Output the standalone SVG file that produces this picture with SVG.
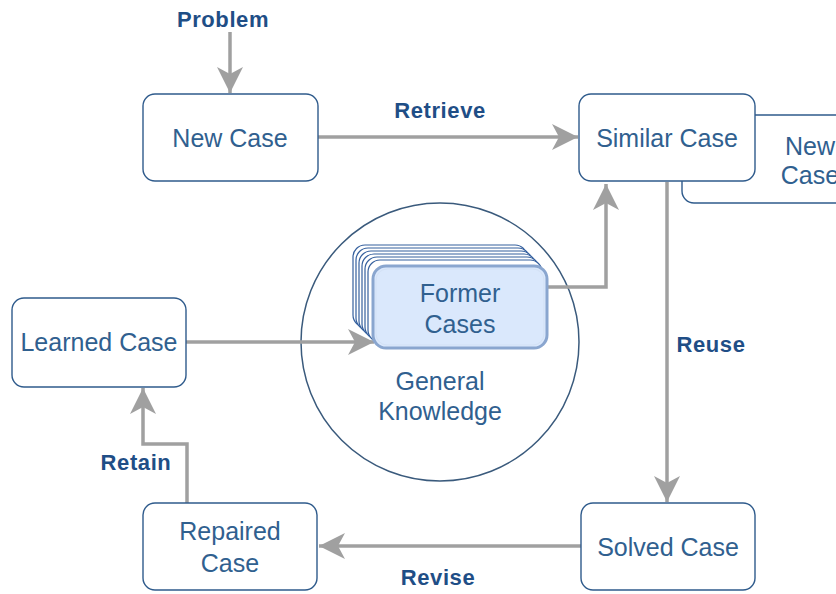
<svg xmlns="http://www.w3.org/2000/svg" width="836" height="594" viewBox="0 0 836 594">
<style>
.node{fill:#ffffff;stroke:#2f5b8c;stroke-width:1.4}
.ntext{font-family:"Liberation Sans",Arial,sans-serif;font-size:25px;fill:#30608f;text-anchor:middle}
.label{font-family:"Liberation Sans",Arial,sans-serif;font-size:22px;font-weight:bold;fill:#1f4e86;text-anchor:middle;letter-spacing:0.6px}
.conn{fill:none;stroke:#a0a0a0;stroke-width:3.5;marker-end:url(#arr)}
.stack{fill:#ffffff;stroke:#35609e;stroke-width:1.2}
</style>
<defs>
<marker id="arr" viewBox="0 0 26 26" refX="26" refY="13" markerWidth="26" markerHeight="26" markerUnits="userSpaceOnUse" orient="auto">
<path d="M0,0 L26,13 L0,26 L7,13 Z" fill="#a0a0a0"/>
</marker>
</defs>
<rect width="836" height="594" fill="#ffffff"/>

<g id="knowledge">
<circle cx="440" cy="342" r="139" fill="#ffffff" stroke="#3a5a7c" stroke-width="1.5"/>
<text class="ntext" x="440" y="390">General</text>
<text class="ntext" x="440" y="420">Knowledge</text>
</g>

<g id="connectors">
<path class="conn" d="M230,32 L230,93"/>
<path class="conn" d="M318,137 L578,137"/>
<path class="conn" d="M667,182 L667,502"/>
<path class="conn" d="M581,546 L319,546"/>
<path class="conn" d="M187,503 L187,444 L143,444 L143,388"/>
<path class="conn" d="M186,342 L374,342"/>
<path class="conn" d="M547,287 L606,287 L606,184"/>
</g>

<g id="labels">
<text class="label" x="223" y="27">Problem</text>
<text class="label" x="440" y="118">Retrieve</text>
<text class="label" x="711" y="352">Reuse</text>
<text class="label" x="438" y="585">Revise</text>
<text class="label" x="136" y="470">Retain</text>
</g>

<g id="new-case-2">
<rect class="node" x="682" y="115" width="200" height="88" rx="12"/>
<text class="ntext" x="810" y="155">New</text>
<text class="ntext" x="810" y="184">Case</text>
</g>

<g id="new-case">
<rect class="node" x="143" y="94" width="175" height="87" rx="12"/>
<text class="ntext" x="230" y="147">New Case</text>
</g>

<g id="similar-case">
<rect class="node" x="579" y="94" width="176" height="87" rx="12"/>
<text class="ntext" x="667" y="147">Similar Case</text>
</g>

<g id="learned-case">
<rect class="node" x="12" y="298" width="174" height="89" rx="12"/>
<text class="ntext" x="99" y="351">Learned Case</text>
</g>

<g id="repaired-case">
<rect class="node" x="143" y="503" width="174" height="87" rx="12"/>
<text class="ntext" x="230" y="540">Repaired</text>
<text class="ntext" x="230" y="572">Case</text>
</g>

<g id="solved-case">
<rect class="node" x="581" y="503" width="174" height="87" rx="12"/>
<text class="ntext" x="668" y="556">Solved Case</text>
</g>

<g id="former-cases">
<rect class="stack" x="353" y="245" width="174" height="82" rx="12"/>
<rect class="stack" x="356" y="248" width="174" height="82" rx="12"/>
<rect class="stack" x="359" y="251" width="174" height="82" rx="12"/>
<rect class="stack" x="362" y="254" width="174" height="82" rx="12"/>
<rect class="stack" x="365" y="257" width="174" height="82" rx="12"/>
<rect class="stack" x="368" y="260" width="174" height="82" rx="12"/>
<rect x="373" y="266" width="174" height="82" rx="13" fill="#dae8fc" stroke="#8aa6cf" stroke-width="3"/>
<rect x="376" y="269" width="168" height="76" rx="11" fill="none" stroke="#d3e1f5" stroke-width="1"/>
<text class="ntext" x="460" y="302">Former</text>
<text class="ntext" x="460" y="333">Cases</text>
</g>
</svg>
